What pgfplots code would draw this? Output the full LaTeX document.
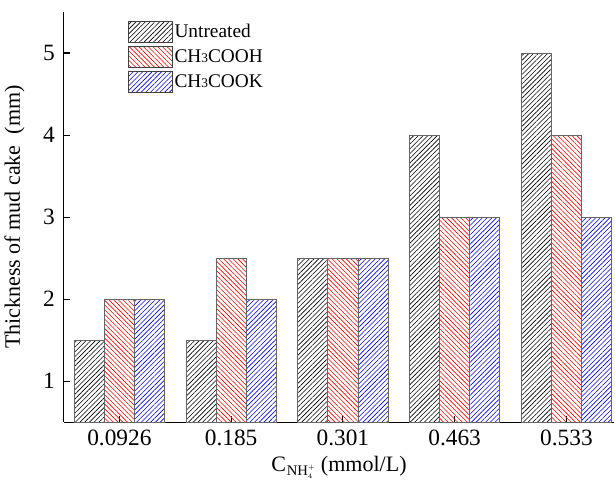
\documentclass[border=0pt]{standalone}
\usepackage{fontspec}
\setmainfont{Liberation Serif}
\usepackage{pgfplots}
\pgfplotsset{compat=1.18}
\usetikzlibrary{patterns.meta}

\begin{document}
\begin{tikzpicture}
\begin{axis}[
    scale only axis,
    width=413pt, height=307.5pt,
    ybar=0pt, bar width=22.5pt,
    xmin=-0.5, xmax=4.43,
    ymin=0.5, ymax=5.5,
    xtick={0,1,2,3,4},
    xticklabels={0.0926,0.185,0.301,0.463,0.533},
    ytick={1,2,3,4,5},
    axis x line*=bottom, axis y line*=left,
    axis line style={line width=0.8pt, -},
    tick align=inside,
    major tick length=5pt,
    tick style={black, line width=0.8pt},
    /pgf/number format/assume math mode=true,
    tick label style={font=\fontsize{17.5}{20}\selectfont},
    xticklabel style={yshift=-2pt},
    yticklabel style={xshift=-3pt},
    xlabel={C\kern0.5pt\raisebox{-0.4ex}{\fontsize{11}{12}\selectfont NH$_{\scriptscriptstyle 4}^{\scriptscriptstyle +}$} (mmol/L)},
    ylabel={Thickness of mud cake\ \ (mm)},
    label style={font=\fontsize{16.5}{19}\selectfont},
    xlabel style={yshift=-1pt},
    ylabel style={yshift=7pt},
    legend style={at={(0.116,0.978)}, anchor=north west, draw=none, fill=none,
        inner sep=0pt, font=\fontsize{14.5}{16}\selectfont, row sep=2.2pt,
        nodes={inner sep=1.5pt}},
    legend cell align=left,
    legend image code/.code={\draw[#1, draw=black!75, line width=0.6pt] (0pt,-7.9pt) rectangle (33pt,7.9pt);},
]
\addplot[draw=black!60, line width=0.6pt, pattern={Lines[angle=45,distance=2.5pt,line width=0.45pt]}, pattern color=black]
    coordinates {(0,1.5) (1,1.5) (2,2.5) (3,4) (4,5)};
\addplot[draw=black!60, line width=0.6pt, pattern={Lines[angle=-45,distance=2.5pt,line width=0.45pt]}, pattern color=red]
    coordinates {(0,2) (1,2.5) (2,2.5) (3,3) (4,4)};
\addplot[draw=black!60, line width=0.6pt, pattern={Lines[angle=45,distance=2.5pt,line width=0.45pt]}, pattern color=blue]
    coordinates {(0,2) (1,2) (2,2.5) (3,3) (4,3)};
\legend{Untreated, CH{\fontsize{10}{11}\selectfont 3}COOH, CH{\fontsize{10}{11}\selectfont 3}COOK}
\coordinate (axtop) at (rel axis cs:0,1);
\end{axis}
\path (axtop) ++(0,9pt) coordinate (padtop);
\end{tikzpicture}
\end{document}
